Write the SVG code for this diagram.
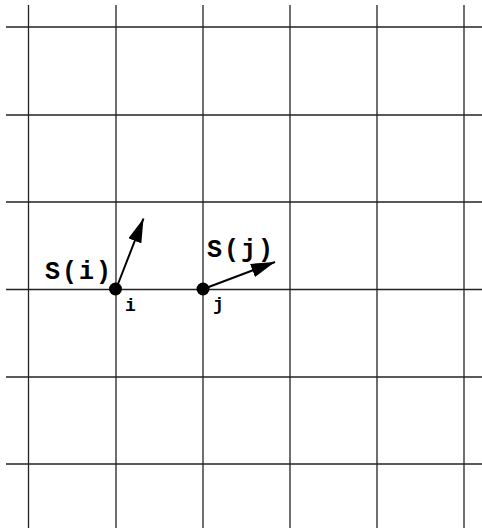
<svg xmlns="http://www.w3.org/2000/svg" width="482" height="531" viewBox="0 0 482 531">
<defs>
<style>
.grid line{stroke:#222;stroke-width:1.3}
.lbl{font-family:"Liberation Mono","Courier New",monospace;font-weight:bold;fill:#000}
.big{font-size:25px;letter-spacing:2px}
.small{font-size:18px}
.vec{stroke:#000;stroke-width:2;fill:none}
</style>
<marker id="ah" viewBox="0 0 24 14" refX="24" refY="7" markerWidth="24" markerHeight="14" markerUnits="userSpaceOnUse" orient="auto">
<path d="M0,0 L24,7 L0,14 Z" fill="#000"/>
</marker>
</defs>
<rect width="482" height="531" fill="#fff"/>
<g class="grid" id="grid">
<line x1="28.5" y1="5" x2="28.5" y2="528"/>
<line x1="116" y1="5" x2="116" y2="528"/>
<line x1="203" y1="5" x2="203" y2="528"/>
<line x1="290" y1="5" x2="290" y2="528"/>
<line x1="377" y1="5" x2="377" y2="528"/>
<line x1="464" y1="5" x2="464" y2="528"/>
<line x1="6" y1="27" x2="482" y2="27"/>
<line x1="6" y1="115" x2="482" y2="115"/>
<line x1="6" y1="202" x2="482" y2="202"/>
<line x1="6" y1="289.5" x2="482" y2="289.5"/>
<line x1="6" y1="377" x2="482" y2="377"/>
<line x1="6" y1="464" x2="482" y2="464"/>
</g>
<g id="node-i">
<circle cx="115.5" cy="289" r="6.5" fill="#000"/>
<text class="lbl big" x="45" y="279">S(i)</text>
<text class="lbl small" x="125" y="311">i</text>
</g>
<g id="node-j">
<circle cx="203" cy="289" r="6.5" fill="#000"/>
<text class="lbl big" x="207" y="256.5">S(j)</text>
<text class="lbl small" x="213" y="310">j</text>
</g>
<g id="connectors">
<line class="vec" x1="118" y1="284" x2="143.5" y2="218.5" marker-end="url(#ah)"/>
<line class="vec" x1="206" y1="288" x2="275" y2="262" marker-end="url(#ah)"/>
</g>
</svg>
